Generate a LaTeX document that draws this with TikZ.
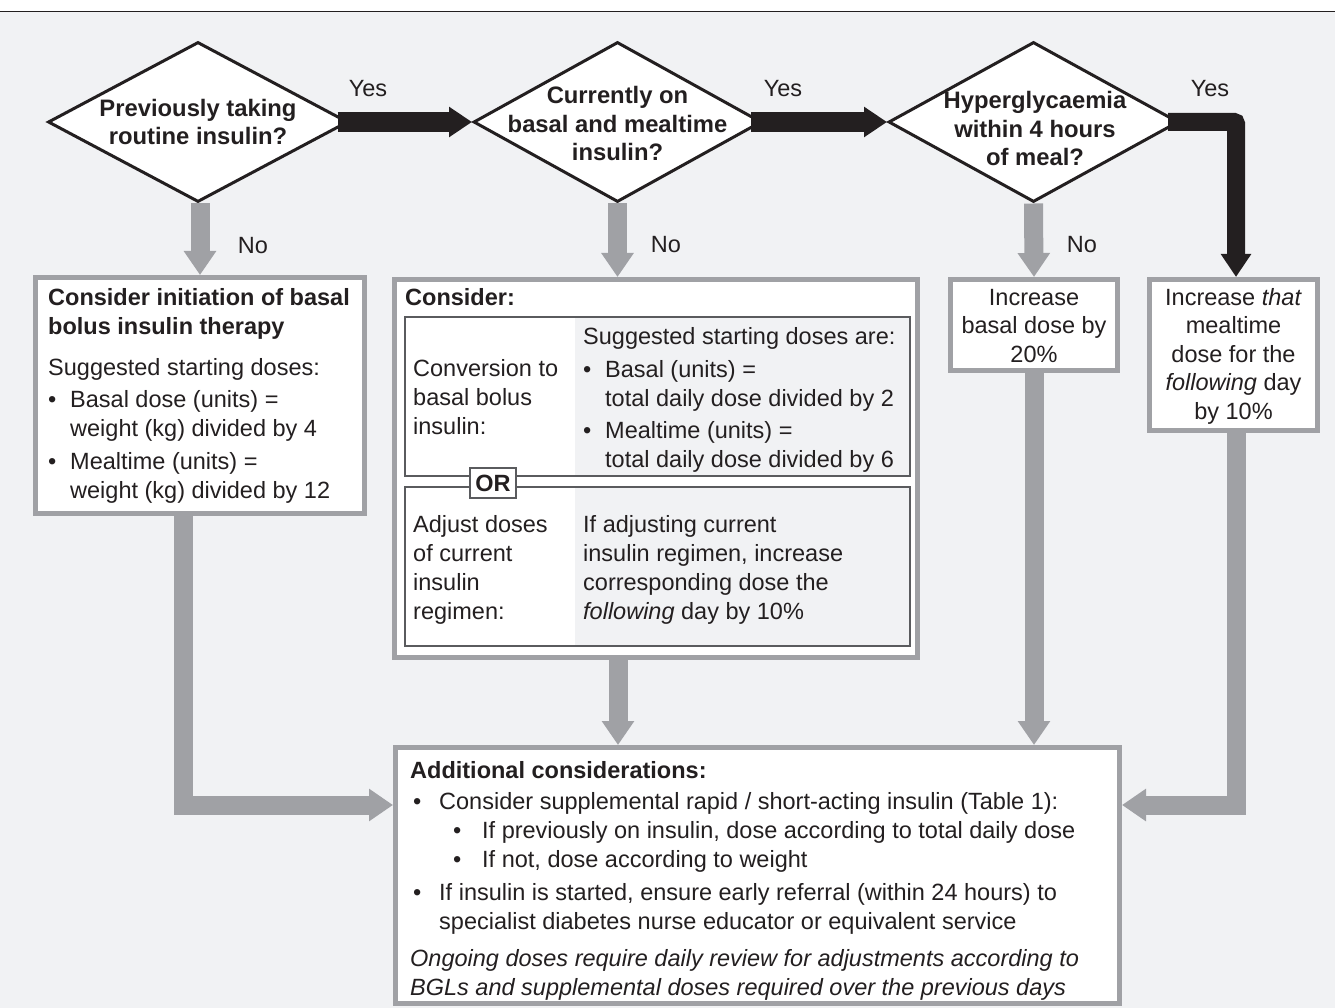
\documentclass[tikz,border=0pt]{standalone}
\usepackage{fontspec}
\setmainfont{Liberation Sans}
\usetikzlibrary{shapes.geometric,arrows.meta}
\definecolor{bgc}{HTML}{F1F2F4}
\definecolor{gr}{HTML}{A0A1A5}
\definecolor{ink}{HTML}{231F20}
\definecolor{tbl}{HTML}{5A5B5E}
\begin{document}
\begin{tikzpicture}[x=1pt,y=-1pt,
  every node/.style={text=ink, inner sep=0pt},
  txt/.style={font=\fontsize{23.5}{29}\selectfont, align=left},
  ctxt/.style={font=\fontsize{23.5}{28.5}\selectfont, align=center},
  qtxt/.style={font=\fontsize{23.8}{28.5}\selectfont\bfseries, align=center},
  dia/.style={shape=diamond, draw=ink, line width=3pt, fill=white, inner sep=0pt},
  box/.style={draw=gr, line width=5pt, fill=white, inner sep=0pt},
  tab/.style={draw=tbl, line width=1.3pt, inner sep=0pt},
  noarr/.style={draw=gr, line width=19pt, -{Triangle[length=24pt,width=31pt]}},
  yesarr/.style={draw=ink, line width=20pt, -{Triangle[length=23pt,width=29pt]}},
  lab/.style={font=\fontsize{23.5}{28}\selectfont, anchor=base},
]
\useasboundingbox (0,0) rectangle (1335,1008);
\fill[white] (0,0) rectangle (1335,12);
\fill[bgc] (0,12) rectangle (1335,1008);
\draw[line width=1.5pt, ink] (0,11.5) -- (1335,11.5);

% diamonds
\node[dia, minimum width=300pt, minimum height=160pt] (d1) at (198,122) {};
\node[dia, minimum width=288pt, minimum height=160pt] (d2) at (617.5,122) {};
\node[dia, minimum width=290pt, minimum height=160pt] (d3) at (1033.5,122) {};
% (anchor=base of a multi-line node = baseline of its last line)
\node[qtxt, anchor=base] (d1t) at (198,145) {Previously taking\\routine insulin?};
\node[qtxt, anchor=base] (d2t) at (617.5,161) {Currently on\\basal and mealtime\\insulin?};
\node[qtxt, anchor=base] (d3t) at (1035,166) {Hyperglycaemia\\within 4 hours\\of meal?};

% boxes
\node[box, minimum width=329pt, minimum height=236pt] (b1) at (200,395.5) {};
\node[box, minimum width=523pt, minimum height=378pt] (b2) at (656,468.5) {};
\node[box, minimum width=167pt, minimum height=91pt] (b3) at (1034,325) {};
\node[box, minimum width=168pt, minimum height=151pt] (b4) at (1233.5,355) {};
\node[box, minimum width=724pt, minimum height=256pt] (b5) at (757.5,875.5) {};

% box 1 text
\node[txt, anchor=base west] (b1t) at (48,498) {\textbf{Consider initiation of basal}\\\textbf{bolus insulin therapy}\\[12pt]Suggested starting doses:\\[3pt]\makebox[22pt][l]{•}Basal dose (units) =\\\hspace*{22pt}weight (kg) divided by 4\\[4pt]\makebox[22pt][l]{•}Mealtime (units) =\\\hspace*{22pt}weight (kg) divided by 12};

% box 2 content
\node[txt, anchor=base west] (b2h) at (405,305) {\textbf{Consider:}};
\fill[bgc] (575,317) rectangle (910,476);
\fill[bgc] (575,487) rectangle (910,646);
\node[tab, minimum width=505pt, minimum height=159pt] (t1) at (657.5,396.5) {};
\node[tab, minimum width=505pt, minimum height=159pt] (t2) at (657.5,566.5) {};
\node[tab, fill=white, minimum width=46pt, minimum height=30pt, font=\fontsize{23.5}{28}\selectfont\bfseries] (or) at (493,483) {OR};
\node[txt, anchor=base west] (t1l) at (413,434) {Conversion to\\basal bolus\\insulin:};
\node[txt, anchor=base west] (t1r) at (583,467) {Suggested starting doses are:\\[4pt]\makebox[22pt][l]{•}Basal (units) =\\\hspace*{22pt}total daily dose divided by 2\\[3pt]\makebox[22pt][l]{•}Mealtime (units) =\\\hspace*{22pt}total daily dose divided by 6};
\node[txt, anchor=base west] (t2l) at (413,619) {Adjust doses\\of current\\insulin\\regimen:};
\node[txt, anchor=base west] (t2r) at (583,619) {If adjusting current\\insulin regimen, increase\\corresponding dose the\\\textit{following} day by 10\%};

% box 3, 4 text
\node[ctxt, anchor=base] (b3t) at (1034,362) {Increase\\basal dose by\\20\%};
\node[ctxt, anchor=base] (b4t) at (1233.5,419) {Increase \textit{that}\\mealtime\\dose for the\\\textit{following} day\\by 10\%};

% box 5 text
\node[txt, anchor=base west] (b5t) at (410,995) {\textbf{Additional considerations:}\\[2pt]\hspace*{3pt}\makebox[26pt][l]{•}Consider supplemental rapid / short-acting insulin (Table 1):\\\hspace*{43pt}\makebox[29pt][l]{•}If previously on insulin, dose according to total daily dose\\\hspace*{43pt}\makebox[29pt][l]{•}If not, dose according to weight\\[4pt]\hspace*{3pt}\makebox[26pt][l]{•}If insulin is started, ensure early referral (within 24 hours) to\\\hspace*{29pt}specialist diabetes nurse educator or equivalent service\\[8pt]\textit{Ongoing doses require daily review for adjustments according to}\\\textit{BGLs and supplemental doses required over the previous days}};

% connectors
\draw[yesarr] ([xshift=-12pt]d1.east) -- (d2.west);
\draw[yesarr] ([xshift=-12pt]d2.east) -- (d3.west);
\draw[yesarr, line width=18pt, rounded corners=2pt] ([xshift=-12pt]d3.east) -| ([xshift=2.5pt]b4.north);
\draw[noarr] ([xshift=2pt]d1.south) -- (b1.north);
\draw[noarr] (d2.south) -- (d2.south |- b2.north);
\draw[noarr] (d3.south) -- (b3.north);
\draw[noarr] ([xshift=-16.5pt]b1.south) |- ([yshift=70.5pt]b5.west);
\draw[noarr] ([xshift=-38pt]b2.south) -- ([xshift=-38pt]b2.south |- b5.north);
\draw[noarr] (b3.south) -- (b3.south |- b5.north);
\draw[noarr] ([xshift=2.5pt]b4.south) |- ([yshift=70.5pt]b5.east);

% labels
\node[lab] (y1) at (368,97) {Yes};
\node[lab] (y2) at (783,97) {Yes};
\node[lab] (y3) at (1210,97) {Yes};
\node[lab] (n1) at (253,254) {No};
\node[lab] (n2) at (666,253) {No};
\node[lab] (n3) at (1082,253) {No};
\end{tikzpicture}
\end{document}
